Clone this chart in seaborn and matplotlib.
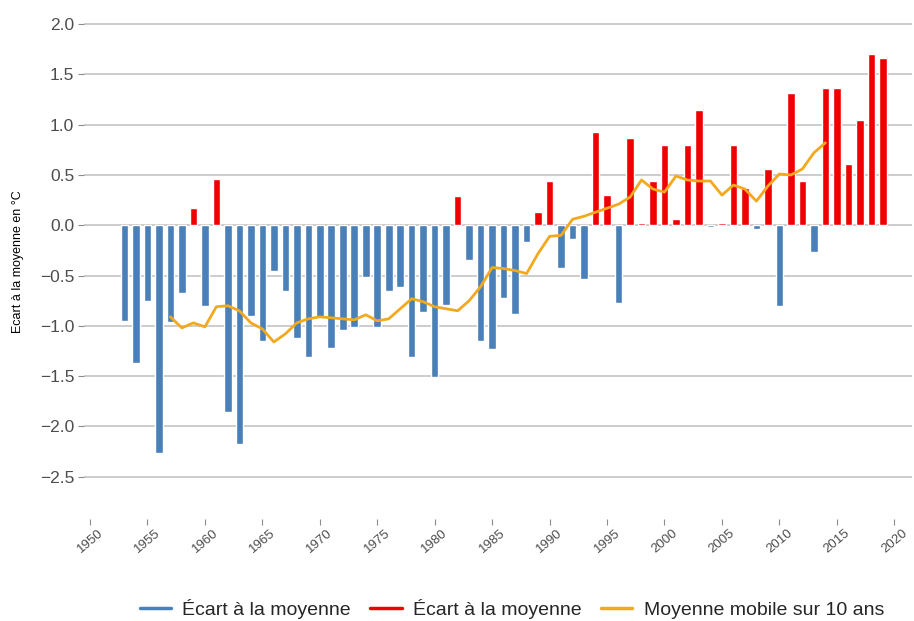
import matplotlib
matplotlib.use("Agg")
import matplotlib.pyplot as plt
from matplotlib.lines import Line2D
import seaborn as sns
import pandas as pd

# Années et écarts à la moyenne (°C)
years = list(range(1953, 2020))
ecarts = [
    -0.95, -1.37, -0.75, -2.26, -0.96, -0.67, 0.17, -0.80, 0.46, -1.86,
    -2.17, -0.90, -1.15, -0.45, -0.65, -1.12, -1.31, -0.91, -1.22, -1.04,
    -1.01, -0.51, -1.01, -0.65, -0.61, -1.31, -0.86, -1.51, -0.79, 0.29,
    -0.35, -1.15, -1.23, -0.72, -0.88, -0.17, 0.13, 0.44, -0.42, -0.14,
    -0.53, 0.93, 0.30, -0.77, 0.87, 0.02, 0.44, 0.80, 0.06, 0.80,
    1.15, -0.02, 0.02, 0.80, 0.37, -0.04, 0.56, -0.80, 1.32, 0.44,
    -0.27, 1.36, 1.36, 0.61, 1.05, 1.70, 1.66,
]

# Moyenne mobile sur 10 ans
ma_years = list(range(1957, 2015))
ma_values = [
    -0.91, -1.02, -0.97, -1.01, -0.81, -0.80, -0.85, -0.97, -1.03, -1.16,
    -1.08, -0.97, -0.93, -0.91, -0.92, -0.93, -0.94, -0.89, -0.95, -0.93,
    -0.83, -0.73, -0.76, -0.81, -0.83, -0.85, -0.75, -0.61, -0.42, -0.43,
    -0.45, -0.48, -0.28, -0.11, -0.10, 0.06, 0.09, 0.13, 0.17, 0.21,
    0.28, 0.45, 0.36, 0.33, 0.49, 0.45, 0.44, 0.44, 0.30, 0.40,
    0.36, 0.24, 0.39, 0.51, 0.50, 0.56, 0.72, 0.82,
]

legend_labels = ["Écart à la moyenne", "Écart à la moyenne", "Moyenne mobile sur 10 ans"]
blue = "#4A80B8"
red = "#F00000"
orange = "#F2A91E"

sns.set_style("white")
plt.rcParams["font.family"] = ["Liberation Sans", "DejaVu Sans"]

df = pd.DataFrame({"annee": years, "ecart": ecarts})
df["signe"] = ["pos" if v > 0 else "neg" for v in df["ecart"]]

fig = plt.figure(figsize=(9.14, 6.21), dpi=100)
ax = fig.add_axes([84 / 914, 1 - 519 / 621, 828 / 914, 515 / 621])

sns.barplot(data=df, x="annee", y="ecart", hue="signe", native_scale=True,
            palette={"neg": blue, "pos": red}, dodge=False, width=0.66,
            legend=False, ax=ax, errorbar=None, saturation=1, zorder=3)
sns.lineplot(x=ma_years, y=ma_values, color=orange, linewidth=2, ax=ax, zorder=4)

ax.set_xlim(1949.48, 2021.54)
ax.set_ylim(-2.92, 2.2)
ax.set_xticks(range(1950, 2021, 5))
ax.set_xticklabels([str(y) for y in range(1950, 2021, 5)], rotation=40,
                   ha="center", fontsize=9.5, color="#4D4D4D")
yt = [-2.5, -2.0, -1.5, -1.0, -0.5, 0.0, 0.5, 1.0, 1.5, 2.0]
ax.set_yticks(yt)
ax.set_yticklabels([f"{v:.1f}".replace("-", "\u2212") for v in yt],
                   fontsize=12.5, color="#4D4D4D")
ax.tick_params(axis="both", bottom=True, left=True, length=4, width=0.8,
               color="#8C8C8C", pad=2)
ax.tick_params(axis="y", pad=3)
ax.grid(axis="y", color="#C4C4C4", linewidth=1.2, zorder=0)
ax.grid(axis="x", visible=False)
for s in ax.spines.values():
    s.set_visible(False)
ax.set_xlabel("")
ax.set_ylabel("Ecart à la moyenne en °C", fontsize=9, color="black")
ax.yaxis.set_label_coords(-0.0725, 0.5)

handles = [Line2D([], [], color=c, linewidth=2.5) for c in (blue, red, orange)]
fig.legend(handles, legend_labels, loc="center", ncol=3, frameon=False,
           bbox_to_anchor=(512 / 914, 1 - 609 / 621), fontsize=14,
           handlelength=1.6, handletextpad=0.6, columnspacing=1.0)

fig.savefig("out.png", dpi=100)
